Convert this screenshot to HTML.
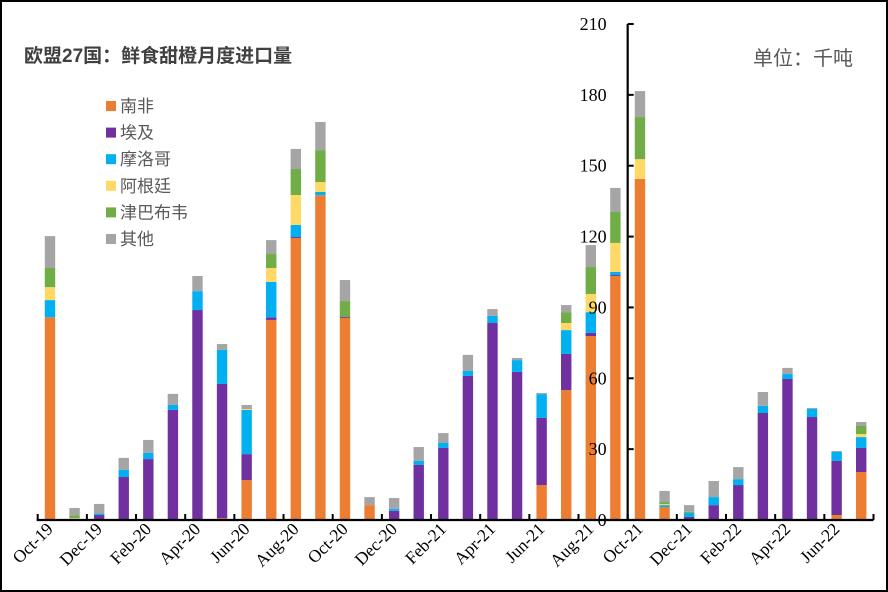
<!DOCTYPE html>
<html><head><meta charset="utf-8">
<style>
html,body{margin:0;padding:0;background:#fff;}
#wrap{position:relative;width:888px;height:592px;overflow:hidden;}
svg{position:absolute;left:0;top:0;}
</style></head>
<body>
<div id="wrap">
<svg id="chart" width="888" height="592">
<rect x="1" y="1" width="886" height="590" fill="#fff" stroke="#000" stroke-width="2"/>
<text x="24" y="62" font-family="'Liberation Sans','Noto Sans CJK SC',sans-serif" font-size="19" font-weight="bold" fill="#404040">欧盟27国：鲜食甜橙月度进口量</text>
<text x="753" y="65" font-family="'Liberation Sans','Noto Sans CJK SC',sans-serif" font-size="20" fill="#595959">单位：千吨</text>
<g id="bars"></g><g id="axes"></g><g id="legend"></g>
</svg>
</div>
<script>
const categories=["Oct-19","Nov-19","Dec-19","Jan-20","Feb-20","Mar-20","Apr-20","May-20","Jun-20","Jul-20","Aug-20","Sep-20","Oct-20","Nov-20","Dec-20","Jan-21","Feb-21","Mar-21","Apr-21","May-21","Jun-21","Jul-21","Aug-21","Sep-21","Oct-21","Nov-21","Dec-21","Jan-22","Feb-22","Mar-22","Apr-22","May-22","Jun-22","Jul-22"];
const southAfrica=[85.8,0.5,0,0,0,0,0,0.8,16.9,84.7,119.4,137.5,85.5,6.3,0,0,0,0,0,0,14.8,55,77.9,103.3,144.4,5.5,0,0,0,0,0,0,2.1,20.3];
const egypt=[0,0,2.1,18.2,25.8,46.6,88.9,56.8,11,1.1,0.4,0,0.4,0,3.9,23.3,30.5,61,83.4,62.7,28.4,15.3,1.3,0.4,0,0,1.3,6.3,14.8,45.3,59.7,43.6,22.9,10.2];
const morocco=[7.3,0,0.6,3,2.6,2.1,8,14.4,18.7,15,5.1,1.4,0,0,0.8,1.7,2.1,2.1,3,5,10.1,10.1,8.8,1.3,0,0.8,1.7,3.4,2.5,3,2.1,3.4,3.8,4.6];
const argentina=[5.5,0.3,0,0,0,0,0,0,0.4,5.9,12.7,4.2,0,0,0,0,0,0,0,0,0,3,7.7,12.3,8.4,0.4,0,0,0,0,0,0,0,1.3];
const zimbabwe=[8.1,1.2,0,0,0,0,0,0,0,5.9,11,13.5,6.8,0,0,0,0,0,0,0,0,4.6,11.4,13.1,17.8,0.9,0.5,0,0,0,0,0,0,3.4];
const others=[13.5,3.1,4.1,5.1,5.5,4.7,6.4,2.5,1.7,5.9,8.5,11.9,8.9,3.4,4.6,5.9,4.2,6.8,2.9,0.9,0.5,3,9.3,10.2,11,4.7,2.8,6.8,5.1,5.9,2.6,0.4,0.4,1.7];
const seriesNames=["南非","埃及","摩洛哥","阿根廷","津巴布韦","其他"];
const seriesColors=["#ED7D31","#7030A0","#00B0F0","#FFD966","#70AD47","#A5A5A5"];
const yTicks=[0,30,60,90,120,150,180,210];
const xLabels=["Oct-19","Dec-19","Feb-20","Apr-20","Jun-20","Aug-20","Oct-20","Dec-20","Feb-21","Apr-21","Jun-21","Aug-21","Oct-21","Dec-21","Feb-22","Apr-22","Jun-22"];

const NS="http://www.w3.org/2000/svg";
const plotL=37.7,plotR=873.5,y0=520,yTop=24,yMax=210;
const band=(plotR-plotL)/categories.length;
function xPos(i){return plotL+band*(i+0.5);}
function yPos(v){return y0-(v/yMax)*(y0-yTop);}
const series=[southAfrica,egypt,morocco,argentina,zimbabwe,others];
const gb=document.getElementById('bars');
categories.forEach((c,i)=>{
  let acc=0;
  series.forEach((s,k)=>{
    const v=s[i];
    if(v>0){
      const r=document.createElementNS(NS,'rect');
      
      
      const yt=yPos(acc+v),yb=yPos(acc);
      r.setAttribute('x',xPos(i)-5.2);r.setAttribute('width',10.4);
      r.setAttribute('y',yt);r.setAttribute('height',yb-yt);
      r.setAttribute('fill',seriesColors[k]);
      gb.appendChild(r);
    }
    acc+=v;
  });
});
const ga=document.getElementById('axes');
function line(x1,y1,x2,y2,w,name){
  const l=document.createElementNS(NS,'line');
  
  
  l.setAttribute('x1',x1);l.setAttribute('y1',y1);l.setAttribute('x2',x2);l.setAttribute('y2',y2);
  l.setAttribute('stroke','#000');l.setAttribute('stroke-width',w);
  ga.appendChild(l);
}
line(plotL-1,y0,plotR,y0,2.2,'x-axis');
const yAxisX=plotL+band*24;
line(yAxisX,yTop,yAxisX,y0,2.2,'y-axis');
yTicks.forEach(t=>{
  line(yAxisX,yPos(t),yAxisX+6,yPos(t),2,'y-tick');
  const tx=document.createElementNS(NS,'text');
  
  
  tx.setAttribute('x',yAxisX-21);tx.setAttribute('y',yPos(t)+6);
  tx.setAttribute('text-anchor','end');
  tx.setAttribute('font-family',"'Liberation Serif',serif");tx.setAttribute('font-size','18');
  tx.textContent=t;ga.appendChild(tx);
});
for(let i=0;i<=categories.length;i+=2){
  const x=plotL+band*i;
  line(x,y0,x,y0-6,2,'x-tick');
}
xLabels.forEach(lb=>{
  const i=categories.indexOf(lb);
  const tx=document.createElementNS(NS,'text');
  
  
  const x=xPos(i)+4,y=y0+10;
  tx.setAttribute('x',x);tx.setAttribute('y',y);
  tx.setAttribute('text-anchor','end');
  tx.setAttribute('transform','rotate(-45 '+x+' '+y+')');
  tx.setAttribute('font-family',"'Liberation Serif',serif");tx.setAttribute('font-size','17.5');
  tx.textContent=lb;ga.appendChild(tx);
});
const gl=document.getElementById('legend');
seriesNames.forEach((n,k)=>{
  const y=106+k*26.6;
  const r=document.createElementNS(NS,'rect');
  
  
  r.setAttribute('x',106);r.setAttribute('y',y-5);r.setAttribute('width',10);r.setAttribute('height',10);
  r.setAttribute('fill',seriesColors[k]);gl.appendChild(r);
  const t=document.createElementNS(NS,'text');
  
  
  t.setAttribute('x',120);t.setAttribute('y',y+6);
  t.setAttribute('font-family',"'Liberation Sans','Noto Sans CJK SC',sans-serif");t.setAttribute('font-size','17');
  t.setAttribute('fill','#595959');t.textContent=n;gl.appendChild(t);
});
</script>
</body></html>
